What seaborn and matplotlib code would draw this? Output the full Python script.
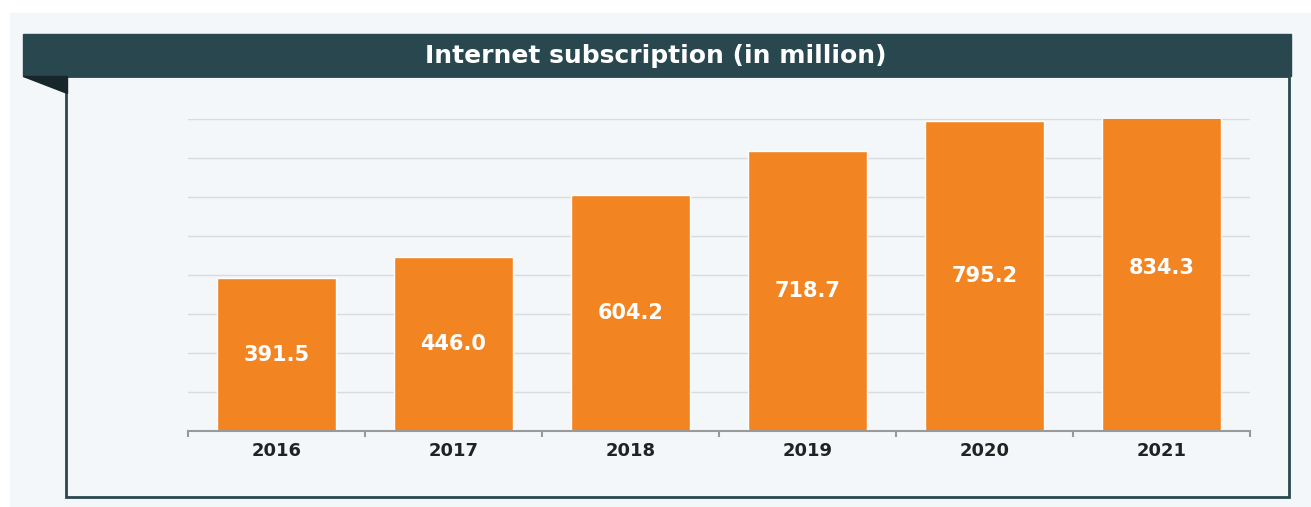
import matplotlib
matplotlib.use('Agg')
import matplotlib.pyplot as plt
from matplotlib.patches import Rectangle, Polygon
import seaborn as sns
import pandas as pd

# data
years = ['2016', '2017', '2018', '2019', '2020', '2021']
subs = [391.5, 446.0, 604.2, 718.7, 795.2, 834.3]
title = 'Internet subscription (in million)'

bar_color = '#f28522'
panel_bg = '#f4f7f9'
dark = '#29474f'

sns.set_style('white')
plt.rcParams['font.family'] = ['DejaVu Sans']

W, H = 1311, 507
fig = plt.figure(figsize=(W / 100, H / 100), dpi=100)
fig.patch.set_facecolor('white')

def px(x0, y0, x1, y1):
    # pixel box -> figure fraction rectangle args
    return (x0 / W, 1 - y1 / H), (x1 - x0) / W, (y1 - y0) / H

# light outer panel
xy, w, h = px(10, 13, 1311, 507)
fig.patches.append(Rectangle(xy, w, h, transform=fig.transFigure, color=panel_bg, zorder=0))

# content box with dark border
xy, w, h = px(66, 76, 1289, 497)
fig.patches.append(Rectangle(xy, w, h, transform=fig.transFigure, facecolor=panel_bg,
                             edgecolor=dark, linewidth=2, zorder=1))

# title bar
xy, w, h = px(23, 34, 1291, 76)
fig.patches.append(Rectangle(xy, w, h, transform=fig.transFigure, color=dark, zorder=2))
fig.patches.append(Polygon([(23 / W, 1 - 76 / H), (67 / W, 1 - 76 / H), (67 / W, 1 - 93 / H)],
                           closed=True, transform=fig.transFigure, color='#16262b', zorder=2))
fig.text(656 / W, 1 - 56 / H, title, color='white', fontsize=18, fontweight='bold',
         ha='center', va='center', zorder=3)

# chart axes
ax = fig.add_axes([188 / W, 1 - 431 / H, (1250 - 188) / W, (431 - 119) / H])
ax.set_zorder(5)
ax.set_facecolor('none')
df = pd.DataFrame({'year': years, 'subs': subs})
sns.barplot(data=df, x='year', y='subs', color=bar_color, saturation=1, width=0.67, ax=ax, zorder=2)

ax.set_ylim(0, 800)
ax.set_xlim(-0.5, len(years) - 0.5)
ax.set_yticks(range(0, 801, 100))
ax.yaxis.grid(True, color='#d8dcdf', linewidth=1)
ax.set_axisbelow(True)
ax.tick_params(axis='y', left=False, labelleft=False)
ax.tick_params(axis='x', which='major', length=0, pad=8, labelsize=13, labelcolor='#222222')
for lab in ax.get_xticklabels():
    lab.set_fontweight('bold')
ax.set_xticks([i - 0.5 for i in range(len(years) + 1)], minor=True)
ax.tick_params(axis='x', which='minor', bottom=True, length=4, width=1.5, color='#999999')
for s in ['top', 'right', 'left']:
    ax.spines[s].set_visible(False)
ax.spines['bottom'].set_color('#999999')
ax.spines['bottom'].set_linewidth(1.5)
ax.set_xlabel('')
ax.set_ylabel('')

for i, v in enumerate(subs):
    ax.text(i, v / 2, f'{v:.1f}', color='white', fontsize=15, fontweight='bold',
            ha='center', va='center', zorder=3)

fig.savefig('out.png', dpi=100, facecolor='white')
